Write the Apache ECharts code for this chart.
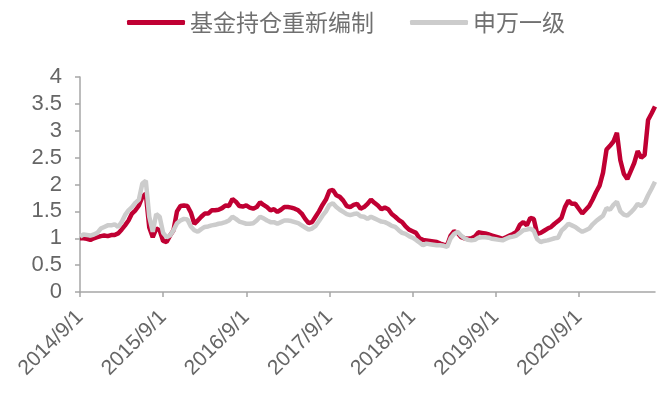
<!DOCTYPE html>
<html>
<head>
<meta charset="utf-8">
<script src="https://cdn.jsdelivr.net/npm/echarts@6/dist/echarts.min.js"></script>
<style>
  html, body { margin: 0; padding: 0; background: #fff; }
  #main { width: 663px; height: 399px; }
</style>
</head>
<body>
<div id="main"></div>
<script>
// half-monthly samples, 2014/9/1 .. 2021/8/1
var seriesNames = ['基金持仓重新编制', '申万一级'];

var fundValues = [
    1.00, 1.00, 0.99, 0.97, 1.00, 1.02, 1.04, 1.05, 1.04, 1.06,
    1.06, 1.09, 1.16, 1.24, 1.33, 1.46, 1.52, 1.61, 1.77, 1.83,
    1.20, 1.02, 1.18, 1.15, 0.95, 0.93, 1.05, 1.15, 1.50, 1.60,
    1.61, 1.60, 1.48, 1.27, 1.33, 1.40, 1.46, 1.46, 1.52, 1.52,
    1.53, 1.56, 1.61, 1.60, 1.73, 1.68, 1.60, 1.59, 1.61, 1.57,
    1.55, 1.58, 1.67, 1.62, 1.58, 1.52, 1.54, 1.49, 1.53, 1.58,
    1.58, 1.57, 1.55, 1.52, 1.46, 1.36, 1.28, 1.30, 1.40, 1.50,
    1.62, 1.72, 1.88, 1.90, 1.80, 1.77, 1.70, 1.60, 1.58, 1.62,
    1.64, 1.55, 1.58, 1.64, 1.72, 1.66, 1.61, 1.54, 1.57, 1.54,
    1.45, 1.40, 1.34, 1.30, 1.22, 1.16, 1.13, 1.10, 1.00, 0.97,
    0.96, 0.95, 0.94, 0.93, 0.90, 0.88, 0.87, 1.05, 1.13, 1.10,
    1.02, 1.00, 0.99, 1.00, 1.03, 1.11, 1.10, 1.09, 1.07, 1.05,
    1.03, 1.01, 0.99, 1.02, 1.05, 1.08, 1.12, 1.25, 1.30, 1.24,
    1.38, 1.36, 1.08, 1.10, 1.14, 1.18, 1.21, 1.27, 1.32, 1.38,
    1.58, 1.70, 1.64, 1.64, 1.55, 1.46, 1.53, 1.60, 1.72, 1.86,
    1.98, 2.22, 2.65, 2.72, 2.80, 2.96, 2.45, 2.20, 2.10, 2.25,
    2.40, 2.62, 2.50, 2.55, 3.20, 3.32, 3.45
];

var swValues = [
    1.03, 1.07, 1.06, 1.05, 1.07, 1.10, 1.18, 1.21, 1.24, 1.24,
    1.26, 1.21, 1.30, 1.43, 1.52, 1.58, 1.66, 1.72, 2.02, 2.07,
    1.40, 1.12, 1.45, 1.40, 1.10, 1.02, 1.05, 1.15, 1.28, 1.33,
    1.36, 1.35, 1.22, 1.15, 1.12, 1.17, 1.21, 1.22, 1.24, 1.25,
    1.27, 1.28, 1.30, 1.33, 1.40, 1.36, 1.31, 1.29, 1.27, 1.27,
    1.28, 1.33, 1.40, 1.37, 1.33, 1.30, 1.30, 1.27, 1.30, 1.33,
    1.33, 1.32, 1.30, 1.28, 1.24, 1.20, 1.16, 1.18, 1.23, 1.32,
    1.42, 1.50, 1.62, 1.65, 1.58, 1.53, 1.49, 1.45, 1.43, 1.45,
    1.46, 1.41, 1.40, 1.36, 1.40, 1.37, 1.34, 1.31, 1.30, 1.27,
    1.23, 1.21, 1.15, 1.10, 1.08, 1.04, 1.01, 0.97, 0.92, 0.87,
    0.90, 0.89, 0.88, 0.87, 0.87, 0.86, 0.84, 1.00, 1.08, 1.12,
    1.05, 1.00, 0.97, 0.96, 0.97, 1.01, 1.02, 1.02, 1.01, 0.99,
    0.98, 0.97, 0.96, 0.99, 1.02, 1.03, 1.05, 1.10, 1.15, 1.16,
    1.18, 1.14, 0.98, 0.93, 0.95, 0.96, 0.98, 1.00, 1.01, 1.14,
    1.20, 1.27, 1.24, 1.21, 1.16, 1.12, 1.15, 1.18, 1.26, 1.32,
    1.37, 1.42, 1.56, 1.53, 1.62, 1.68, 1.50, 1.44, 1.42, 1.48,
    1.55, 1.64, 1.60, 1.66, 1.80, 1.92, 2.05
];

var yTicks = [0, 0.5, 1, 1.5, 2, 2.5, 3, 3.5, 4];

// sample dates: the 1st and 16th of each month from 2014/9
var dates = [];
for (var k = 0; k < fundValues.length; k++) {
    var m = 8 + Math.floor(k / 2);
    var yr = 2014 + Math.floor(m / 12);
    dates.push(yr + '/' + (m % 12 + 1) + '/' + (k % 2 === 0 ? 1 : 16));
}

var chart = echarts.init(document.getElementById('main'));

var axisGray = '#a6a6a6';
var textGray = '#666666';

var option = {
    animation: false,
    legend: {
        top: 6,
        left: 122,
        itemGap: 36,
        itemWidth: 58,
        itemHeight: 5,
        icon: 'roundRect',
        textStyle: {
            color: '#707070',
            fontSize: 23,
            fontFamily: 'Noto Sans CJK SC'
        },
        data: seriesNames
    },
    grid: {
        left: 80,
        right: 8,
        top: 77,
        bottom: 107,
        containLabel: false
    },
    xAxis: {
        type: 'category',
        boundaryGap: false,
        data: dates,
        axisLine: { lineStyle: { color: axisGray, width: 1.5 } },
        axisTick: {
            length: 5,
            lineStyle: { color: axisGray, width: 1.5 },
            interval: function (idx) { return idx % 24 === 0; }
        },
        axisLabel: {
            interval: function (idx) { return idx % 24 === 0; },
            rotate: 45,
            color: textGray,
            fontSize: 21,
            fontFamily: 'Liberation Sans',
            margin: 22
        },
        splitLine: { show: false }
    },
    yAxis: {
        type: 'value',
        min: yTicks[0],
        max: yTicks[yTicks.length - 1],
        interval: 0.5,
        axisLine: { show: true, lineStyle: { color: axisGray, width: 1.5 } },
        axisTick: { show: true, length: 5, lineStyle: { color: axisGray, width: 1.5 } },
        axisLabel: {
            color: textGray,
            fontSize: 22,
            fontFamily: 'Liberation Sans',
            margin: 18
        },
        splitLine: { show: false }
    },
    series: [
        {
            name: seriesNames[0],
            type: 'line',
            data: fundValues,
            showSymbol: false,
            symbol: 'none',
            color: '#c00033',
            lineStyle: { color: '#c00033', width: 4.5 }
        },
        {
            name: seriesNames[1],
            type: 'line',
            data: swValues,
            showSymbol: false,
            symbol: 'none',
            color: '#cccccc',
            lineStyle: { color: '#cccccc', width: 4.5 }
        }
    ]
};

chart.setOption(option);
</script>
</body>
</html>
